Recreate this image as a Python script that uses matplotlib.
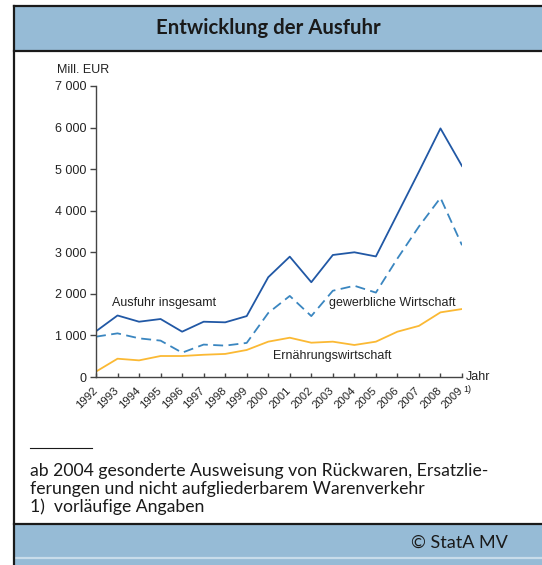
import matplotlib
matplotlib.use("Agg")
import numpy as np
from matplotlib import pyplot as plt
from matplotlib.patches import Rectangle
from matplotlib.lines import Line2D
from matplotlib.transforms import ScaledTranslation

# Ausfuhr Mecklenburg-Vorpommern, Mill. EUR
years = list(range(1992, 2010))
insgesamt = [1100, 1480, 1330, 1395, 1090, 1330, 1315, 1465, 2400, 2895,
             2280, 2935, 3000, 2900, 3920, 4940, 5980, 5075]
gewerblich = [970, 1050, 930, 875, 585, 780, 755, 820, 1540, 1950,
              1465, 2075, 2195, 2030, 2850, 3620, 4310, 3170]
ernaehrung = [130, 440, 400, 505, 505, 535, 555, 650, 850, 945,
              825, 850, 770, 850, 1090, 1230, 1555, 1635]
year_labels = [str(y) for y in years]
y_ticks = [0, 1000, 2000, 3000, 4000, 5000, 6000, 7000]
y_tick_labels = ["0", "1 000", "2 000", "3 000", "4 000", "5 000", "6 000", "7 000"]

W, H = 542, 565
fig = plt.figure(figsize=(W / 100, H / 100), dpi=100)
band = "#96bbd6"
text_font = "Lato"
chart_font = "Liberation Sans"
fs = 9


def fx(px):
    return px / W


def fy(py):
    return 1 - py / H


# Kopfzeile
fig.patches.append(Rectangle((fx(14), fy(51)), 1 - fx(14), fy(6) - fy(51),
                             transform=fig.transFigure, facecolor=band, edgecolor="none"))
# Fußzeile
fig.patches.append(Rectangle((fx(14), 0), 1 - fx(14), fy(524),
                             transform=fig.transFigure, facecolor=band, edgecolor="none"))
for yy, c in [(6, "#1a1a1a"), (51, "#1a1a1a"), (524, "#1a1a1a"), (558, "#c8dcea")]:
    fig.lines.append(Line2D([fx(14), 1], [fy(yy), fy(yy)], transform=fig.transFigure,
                            color=c, lw=1.6))
fig.lines.append(Line2D([fx(14), fx(14)], [fy(6), 0], transform=fig.transFigure,
                        color="#1a1a1a", lw=1.6))

fig.text(fx(268), fy(28), "Entwicklung der Ausfuhr", ha="center", va="center",
         fontsize=14.7, fontweight="bold", family=text_font, color="#1a1a1a")
fig.text(fx(508), fy(543), "\u00a9 StatA MV", ha="right", va="center",
         fontsize=13, family=text_font, color="#1a1a1a")

# Diagramm
ax = fig.add_axes([fx(96), fy(377), fx(462) - fx(96), fy(86) - fy(377)])
ax.plot(years, insgesamt, color="#2158a5", lw=1.3)
ax.plot(years, gewerblich, color="#3a86c0", lw=1.3, linestyle=(0, (5.5, 3)))
ax.plot(years, ernaehrung, color="#fbb934", lw=1.3)

ax.set_xlim(years[0], years[-1])
ax.set_ylim(0, 7000)
ax.set_yticks(y_ticks)
ax.set_yticklabels(y_tick_labels)
ax.set_xticks(years)
ax.set_xticklabels(year_labels, rotation=45, ha="right", va="top",
                   rotation_mode="anchor")
for s in ["top", "right"]:
    ax.spines[s].set_visible(False)
for s in ["left", "bottom"]:
    ax.spines[s].set_color("#444444")
    ax.spines[s].set_linewidth(1.0)
ax.tick_params(axis="y", direction="out", length=4, width=1, color="#444444",
               labelsize=fs, labelcolor="#222222", pad=3)
ax.tick_params(axis="x", direction="in", length=3, width=1, color="#444444",
               labelsize=8.2, labelcolor="#222222", pad=6)
for lbl in ax.get_xticklabels() + ax.get_yticklabels():
    lbl.set_family(chart_font)
shift = ScaledTranslation(-4 / 100, 0, fig.dpi_scale_trans)
for lbl in ax.get_xticklabels():
    lbl.set_transform(lbl.get_transform() + shift)

ax.text(2009.05, -300, "1)", fontsize=6.5, family=chart_font, color="#222222",
        ha="left", va="center", clip_on=False)
ax.text(1.01, 0, "Jahr", transform=ax.transAxes, fontsize=fs, family=chart_font,
        color="#222222", ha="left", va="center")
fig.text(fx(57), fy(70), "Mill. EUR", fontsize=fs, family=chart_font,
         color="#222222", ha="left", va="center")

ax.text(1992.74, 1790, "Ausfuhr insgesamt", fontsize=fs, family=chart_font,
        color="#222222", va="center")
ax.text(2002.82, 1790, "gewerbliche Wirtschaft", fontsize=fs, family=chart_font,
        color="#222222", va="center")
ax.text(2000.22, 505, "Ernährungswirtschaft", fontsize=fs, family=chart_font,
        color="#222222", va="center")

# Fußnoten
fig.lines.append(Line2D([fx(30), fx(92)], [fy(448), fy(448)], transform=fig.transFigure,
                        color="#1a1a1a", lw=0.8))
notes = ["ab 2004 gesonderte Ausweisung von Rückwaren, Ersatzlie-",
         "ferungen und nicht aufgliederbarem Warenverkehr",
         "1)  vorläufige Angaben"]
for i, line in enumerate(notes):
    fig.text(fx(30), fy(471 + i * 18), line, ha="left", va="center", fontsize=12.7,
             family=text_font, color="#1a1a1a")

fig.savefig("out.png", dpi=100, facecolor="white")
